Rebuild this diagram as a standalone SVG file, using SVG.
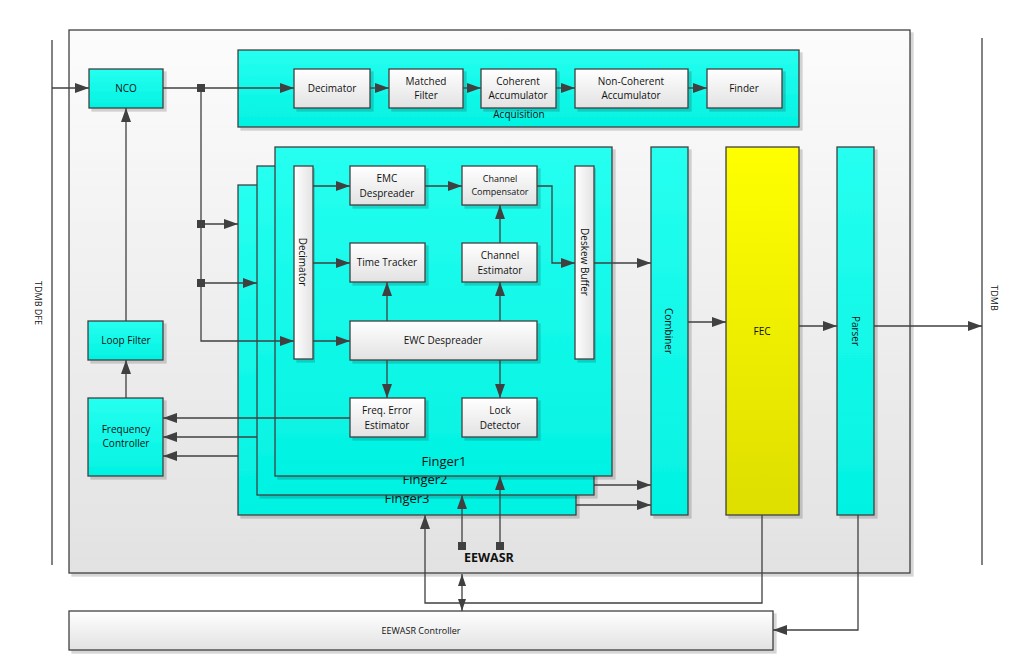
<svg xmlns="http://www.w3.org/2000/svg" width="1021" height="665" viewBox="0 0 1021 665">
<defs>
<linearGradient id="gMain" x1="0" y1="0" x2="0" y2="1"><stop offset="0" stop-color="#fcfcfc"/><stop offset="1" stop-color="#e2e2e2"/></linearGradient>
<linearGradient id="gWhite" x1="0" y1="0" x2="0" y2="1"><stop offset="0" stop-color="#ffffff"/><stop offset="1" stop-color="#e2e2e2"/></linearGradient>
<linearGradient id="gWhiteH" x1="0" y1="0" x2="1" y2="0"><stop offset="0" stop-color="#ffffff"/><stop offset="1" stop-color="#e2e2e2"/></linearGradient>
<linearGradient id="gCyan" x1="0" y1="0" x2="0" y2="1"><stop offset="0" stop-color="#26fff0"/><stop offset="1" stop-color="#02f2e2"/></linearGradient>
<linearGradient id="gYellow" x1="0" y1="0" x2="0" y2="1"><stop offset="0" stop-color="#ffff00"/><stop offset="1" stop-color="#dede00"/></linearGradient>
<filter id="sh" x="-5%" y="-5%" width="115%" height="115%"><feDropShadow dx="3" dy="3" stdDeviation="0.6" flood-color="#000" flood-opacity="0.16"/></filter>
<marker id="ah" markerUnits="userSpaceOnUse" markerWidth="14" markerHeight="10" refX="14" refY="5" orient="auto"><path d="M0,0 L14,5 L0,10 z" fill="#404040"/></marker>
<marker id="as" markerUnits="userSpaceOnUse" markerWidth="12" markerHeight="8" refX="12" refY="4" orient="auto"><path d="M0,0 L12,4 L0,8 z" fill="#404040"/></marker>
<marker id="asr" markerUnits="userSpaceOnUse" markerWidth="12" markerHeight="8" refX="0" refY="4" orient="auto"><path d="M12,0 L0,4 L12,8 z" fill="#404040"/></marker>
</defs>
<style>
.b{stroke:#404040;stroke-width:1.3;filter:url(#sh)}
.w{fill:url(#gWhite)}
.wv{fill:url(#gWhiteH)}
.c{fill:url(#gCyan)}
.y{fill:url(#gYellow)}
text{font-family:"Open Sans","Liberation Sans",sans-serif;font-size:10px;fill:#111;text-anchor:middle}
.s9{font-size:9px}
.f{font-size:13px}
.bold{font-weight:bold;font-size:12.5px;text-anchor:start}
.cn line,.cn path,.cn polyline{stroke:#404040;stroke-width:1.3;fill:none}
.sq{fill:#404040}
</style>
<rect width="1021" height="665" fill="#ffffff"/>
<g id="main"><rect class="b" x="69" y="30" width="841" height="543" fill="url(#gMain)"/></g>
<g id="boundaries">
<line x1="52" y1="40" x2="52" y2="565" stroke="#404040" stroke-width="1.3"/>
<line x1="982" y1="38" x2="982" y2="565" stroke="#404040" stroke-width="1.3"/>
<text class="s9" transform="translate(38,303) rotate(90)" dominant-baseline="central">TDMB DFE</text>
<text class="s9" transform="translate(994,298) rotate(90)" dominant-baseline="central">TDMB</text>
</g>
<g id="nco"><rect class="b c" x="89" y="69" width="74" height="39"/><text x="126" y="92">NCO</text></g>
<g id="acquisition"><rect class="b c" x="238" y="50" width="561" height="77"/><text x="519" y="118">Acquisition</text></g>
<g id="acq-decimator"><rect class="b w" x="294" y="69" width="76" height="39"/><text x="332" y="92">Decimator</text></g>
<g id="matched-filter"><rect class="b w" x="389" y="69" width="74" height="39"/><text x="426" y="85">Matched</text><text x="426" y="99">Filter</text></g>
<g id="coherent-acc"><rect class="b w" x="481" y="69" width="75" height="39"/><text x="518" y="85">Coherent</text><text x="518" y="99">Accumulator</text></g>
<g id="noncoherent-acc"><rect class="b w" x="575" y="69" width="113" height="39"/><text x="631" y="85">Non-Coherent</text><text x="631" y="99">Accumulator</text></g>
<g id="finder"><rect class="b w" x="707" y="69" width="75" height="39"/><text x="744" y="92">Finder</text></g>
<g id="finger3"><rect class="b c" x="238" y="185" width="338" height="330"/><text class="f" x="407" y="503">Finger3</text></g>
<g id="finger2"><rect class="b c" x="257" y="166" width="337" height="329"/><text class="f" x="425" y="484">Finger2</text></g>
<g id="finger1"><rect class="b c" x="275" y="147" width="337" height="329"/><text class="f" x="444" y="466">Finger1</text></g>
<g id="decimator"><rect class="b wv" x="294" y="166" width="19" height="193"/><text transform="translate(303,262) rotate(90)" dominant-baseline="central">Decimator</text></g>
<g id="emc-despreader"><rect class="b w" x="350" y="166" width="75" height="39"/><text x="387" y="182">EMC</text><text x="387" y="197">Despreader</text></g>
<g id="channel-compensator"><rect class="b w" x="462" y="166" width="75" height="39"/><text class="s9" x="500" y="182">Channel</text><text class="s9" x="500" y="195">Compensator</text></g>
<g id="deskew-buffer"><rect class="b wv" x="575" y="166" width="19" height="193"/><text transform="translate(585,262) rotate(90)" dominant-baseline="central">Deskew Buffer</text></g>
<g id="time-tracker"><rect class="b w" x="350" y="243" width="75" height="39"/><text x="387" y="266">Time Tracker</text></g>
<g id="channel-estimator"><rect class="b w" x="462" y="243" width="75" height="39"/><text x="500" y="259">Channel</text><text x="500" y="274">Estimator</text></g>
<g id="ewc-despreader"><rect class="b w" x="350" y="321" width="187" height="39"/><text x="443" y="344">EWC Despreader</text></g>
<g id="freq-error"><rect class="b w" x="350" y="398" width="75" height="39"/><text x="387" y="414">Freq. Error</text><text x="387" y="429">Estimator</text></g>
<g id="lock-detector"><rect class="b w" x="462" y="398" width="75" height="39"/><text x="500" y="414">Lock</text><text x="500" y="429">Detector</text></g>
<g id="loop-filter"><rect class="b c" x="88" y="321" width="75" height="39"/><text x="126" y="344">Loop Filter</text></g>
<g id="freq-controller"><rect class="b c" x="88" y="398" width="75" height="78"/><text x="126" y="433">Frequency</text><text x="126" y="447">Controller</text></g>
<g id="combiner"><rect class="b c" x="651" y="147" width="37" height="368"/><text transform="translate(669,331) rotate(90)" dominant-baseline="central">Combiner</text></g>
<g id="fec"><rect class="b y" x="726" y="147" width="73" height="368"/><text x="762" y="335">FEC</text></g>
<g id="parser"><rect class="b c" x="837" y="147" width="37" height="368"/><text transform="translate(856,331) rotate(90)" dominant-baseline="central">Parser</text></g>
<g id="eewasr-controller"><rect class="b w" x="69" y="611" width="704" height="39"/><text class="s9" x="421" y="634">EEWASR Controller</text></g>
<g id="eewasr-label"><text class="bold" x="464" y="562">EEWASR</text></g>
<g id="connectors" class="cn">
<line x1="52" y1="88" x2="89" y2="88" marker-end="url(#ah)"/>
<line x1="163" y1="88" x2="294" y2="88" marker-end="url(#ah)"/>
<line x1="370" y1="88" x2="389" y2="88" marker-end="url(#ah)"/>
<line x1="463" y1="88" x2="481" y2="88" marker-end="url(#ah)"/>
<line x1="556" y1="88" x2="575" y2="88" marker-end="url(#ah)"/>
<line x1="688" y1="88" x2="707" y2="88" marker-end="url(#ah)"/>
<path d="M201,88 V341 H294" marker-end="url(#ah)"/>
<line x1="201" y1="224" x2="238" y2="224" marker-end="url(#ah)"/>
<line x1="201" y1="283" x2="257" y2="283" marker-end="url(#ah)"/>
<line x1="126" y1="321" x2="126" y2="108" marker-end="url(#ah)"/>
<line x1="126" y1="398" x2="126" y2="360" marker-end="url(#ah)"/>
<line x1="350" y1="418" x2="163" y2="418" marker-end="url(#ah)"/>
<line x1="257" y1="437" x2="163" y2="437" marker-end="url(#ah)"/>
<line x1="238" y1="456" x2="163" y2="456" marker-end="url(#ah)"/>
<line x1="313" y1="186" x2="350" y2="186" marker-end="url(#ah)"/>
<line x1="313" y1="263" x2="350" y2="263" marker-end="url(#ah)"/>
<line x1="313" y1="341" x2="350" y2="341" marker-end="url(#ah)"/>
<line x1="425" y1="186" x2="462" y2="186" marker-end="url(#ah)"/>
<line x1="500" y1="243" x2="500" y2="205" marker-end="url(#ah)"/>
<path d="M537,186 H552 V263 H575" marker-end="url(#ah)"/>
<line x1="387" y1="321" x2="387" y2="282" marker-end="url(#ah)"/>
<line x1="500" y1="321" x2="500" y2="282" marker-end="url(#ah)"/>
<line x1="387" y1="360" x2="387" y2="398" marker-end="url(#ah)"/>
<line x1="500" y1="360" x2="500" y2="398" marker-end="url(#ah)"/>
<line x1="594" y1="263" x2="651" y2="263" marker-end="url(#ah)"/>
<line x1="594" y1="485" x2="651" y2="485" marker-end="url(#ah)"/>
<line x1="576" y1="505" x2="651" y2="505" marker-end="url(#ah)"/>
<line x1="688" y1="322" x2="726" y2="322" marker-end="url(#ah)"/>
<line x1="799" y1="326" x2="837" y2="326" marker-end="url(#ah)"/>
<line x1="874" y1="326" x2="982" y2="326" marker-end="url(#ah)"/>
<path d="M762,515 V603 H425 V515" marker-end="url(#ah)"/>
<line x1="462" y1="546" x2="462" y2="495" marker-end="url(#ah)"/>
<line x1="500" y1="546" x2="500" y2="476" marker-end="url(#ah)"/>
<line x1="462" y1="574" x2="462" y2="611" marker-start="url(#asr)" marker-end="url(#as)"/>
<path d="M858,515 V630 H773" marker-end="url(#ah)"/>
<rect class="sq" x="197" y="84" width="8" height="8"/>
<rect class="sq" x="197" y="220" width="8" height="8"/>
<rect class="sq" x="197" y="279" width="8" height="8"/>
<rect class="sq" x="458" y="542" width="8" height="8"/>
<rect class="sq" x="496" y="542" width="8" height="8"/>
</g>
</svg>
